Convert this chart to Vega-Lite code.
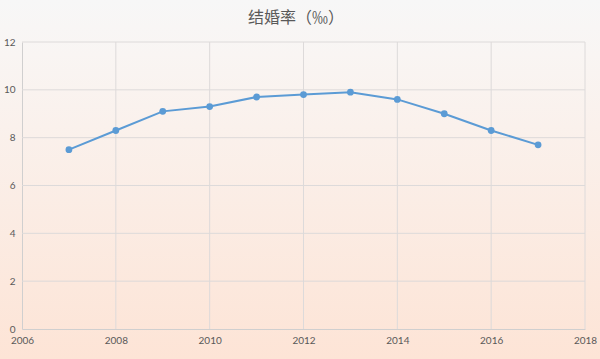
{
  "$schema": "https://vega.github.io/schema/vega-lite/v6.json",
  "width": 600,
  "height": 359,
  "autosize": "none",
  "padding": 0,
  "background": "#faefe8",
  "title": {
    "text": "结婚率（‰）",
    "font": "Noto Sans CJK SC",
    "fontSize": 16,
    "fontWeight": "normal",
    "color": "#595959",
    "offset": -26,
    "anchor": "middle",
    "dx": -4
  },
  "view": {
    "stroke": null,
    "fill": {
      "gradient": "linear",
      "x1": 0, "y1": 0, "x2": 0, "y2": 1,
      "stops": [
        {"offset": 0, "color": "#f7f7f7"},
        {"offset": 0.15, "color": "#f9f5f3"},
        {"offset": 1, "color": "#fde4d6"}
      ]
    }
  },
  "config": {
    "axis": {
      "title": null,
      "grid": false,
      "ticks": false,
      "labelFont": "Lato",
      "labelFontSize": 10,
      "labelColor": "#595959",
      "domainColor": "#d0cfcf"
    },
    "axisX": {"offset": -30, "labelPadding": 6, "labelFlush": false},
    "axisY": {"offset": -22, "labelPadding": 7}
  },
  "datasets": {
    "rates": [
      {"year": 2007, "rate": 7.5},
      {"year": 2008, "rate": 8.3},
      {"year": 2009, "rate": 9.1},
      {"year": 2010, "rate": 9.3},
      {"year": 2011, "rate": 9.7},
      {"year": 2012, "rate": 9.8},
      {"year": 2013, "rate": 9.9},
      {"year": 2014, "rate": 9.6},
      {"year": 2015, "rate": 9.0},
      {"year": 2016, "rate": 8.3},
      {"year": 2017, "rate": 7.7}
    ],
    "xgrid": [{"g": 2008}, {"g": 2010}, {"g": 2012}, {"g": 2014}, {"g": 2016}, {"g": 2018}],
    "ygrid": [{"g": 2}, {"g": 4}, {"g": 6}, {"g": 8}, {"g": 10}, {"g": 12}]
  },
  "layer": [
    {
      "data": {"name": "xgrid"},
      "mark": {"type": "rule", "color": "#dddada", "strokeWidth": 1},
      "encoding": {
        "x": {"field": "g", "type": "quantitative", "scale": {"domain": [2006, 2018], "nice": false, "zero": false, "range": [22, 585]}},
        "y": {"datum": 0, "type": "quantitative", "scale": {"domain": [0, 12], "nice": false, "range": [329, 42]}},
        "y2": {"datum": 12}
      }
    },
    {
      "data": {"name": "ygrid"},
      "mark": {"type": "rule", "color": "#dddada", "strokeWidth": 1},
      "encoding": {
        "y": {"field": "g", "type": "quantitative"},
        "x": {"datum": 2006, "type": "quantitative"},
        "x2": {"datum": 2018}
      }
    },
    {
      "data": {"name": "rates"},
      "mark": {"type": "line", "color": "#5b9bd5", "strokeWidth": 2, "point": {"filled": true, "size": 46, "color": "#5b9bd5"}},
      "encoding": {
        "x": {"field": "year", "type": "quantitative", "axis": {"values": [2006, 2008, 2010, 2012, 2014, 2016, 2018], "format": "d"}},
        "y": {"field": "rate", "type": "quantitative", "axis": {"values": [0, 2, 4, 6, 8, 10, 12]}}
      }
    }
  ]
}
